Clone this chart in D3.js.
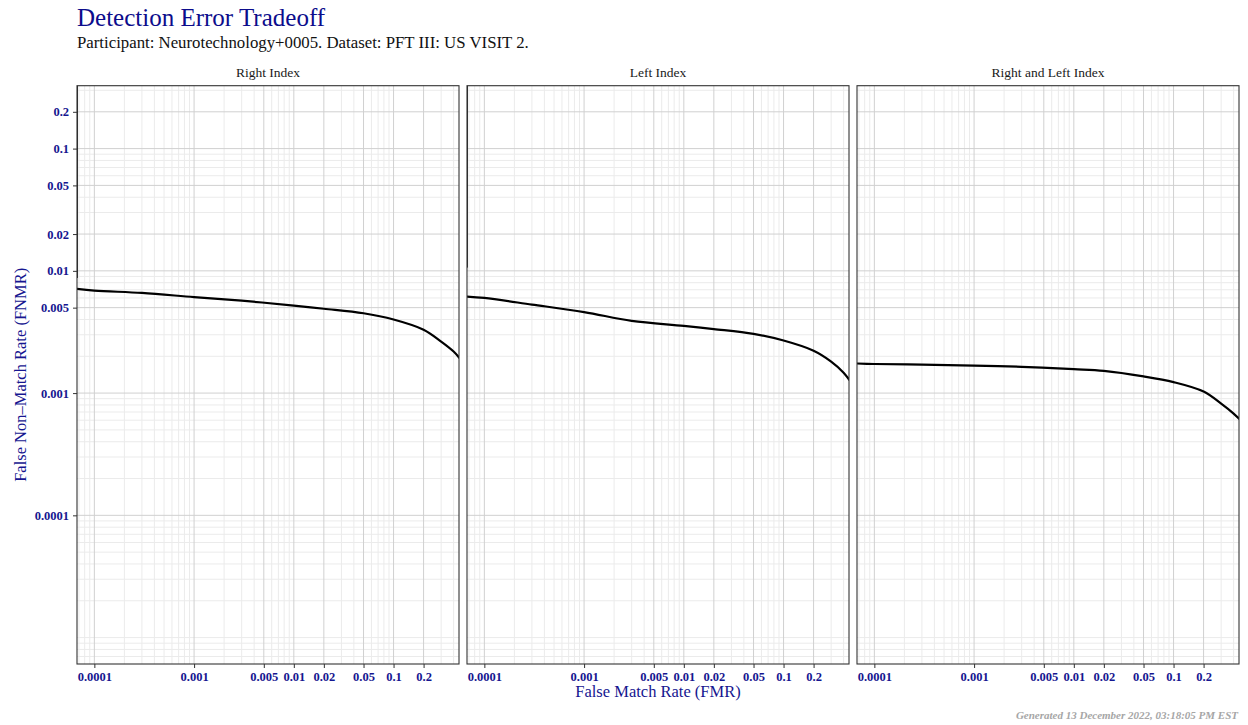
<!DOCTYPE html>
<html>
<head>
<meta charset="utf-8">
<script src="https://cdn.jsdelivr.net/npm/d3@7"></script>
<style>
  body { margin: 0; background: #fff; }
  svg { display: block; font-family: "Liberation Serif", serif; }
</style>
</head>
<body>
<div id="chart"></div>
<script>

// Data
var panels = ["Right Index", "Left Index", "Right and Left Index"];

var fmr = [0.00006, 0.0001, 0.0003, 0.001, 0.003, 0.01, 0.02, 0.05, 0.1, 0.2, 0.3, 0.4, 0.46];

var fnmrRight = [0.0072, 0.0069, 0.0066, 0.0061, 0.0057, 0.0052, 0.0049, 0.0045, 0.0040, 0.0033, 0.00264, 0.00219, 0.00193];
var fnmrLeft = [0.0062, 0.0060, 0.0053, 0.0046, 0.0039, 0.00355, 0.00334, 0.00305, 0.00269, 0.00222, 0.00181, 0.00147, 0.00127];
var fnmrBoth = [0.00175, 0.00173, 0.00171, 0.00168, 0.00164, 0.00157, 0.00152, 0.00137, 0.00123, 0.00103, 0.00082, 0.00068, 0.00061];

// steep start of the curve at the very lowest FMR (FMR, FNMR from -> to)
var leadFmr = [0.0000666, 0.0000666, null];
var leadTop = [1, 1, null];
var leadBottom = [0.0089, 0.0108, null];

var series = [fnmrRight, fnmrLeft, fnmrBoth];

var xTicks = [0.0001, 0.001, 0.005, 0.01, 0.02, 0.05, 0.1, 0.2];
var yTicks = [0.0001, 0.001, 0.005, 0.01, 0.02, 0.05, 0.1, 0.2];

var xDomain = [0.000067, 0.453];
var yDomain = [0.00000608, 0.327];

var title = "Detection Error Tradeoff";
var subtitle = "Participant: Neurotechnology+0005. Dataset: PFT III: US VISIT 2.";
var footer = "Generated 13 December 2022, 03:18:05 PM EST";

// layout
var svgWidth = 1248;
var svgHeight = 725;
var margin = {top: 85.7, left: 77};
var panelW = 382;
var panelH = 578.3;
var gap = 8;

var blue = "#161690";

var svg = d3.select("#chart")
  .append("svg")
  .attr("width", svgWidth)
  .attr("height", svgHeight);

var xScale = d3.scaleLog().domain(xDomain).range([0, panelW]);
var yScale = d3.scaleLog().domain(yDomain).range([panelH, 0]);

function tickText(d) {
  return d < 0.001 ? d.toFixed(4) : String(+d.toPrecision(3));
}

var line = d3.line()
  .x(d => xScale(d[0]))
  .y(d => yScale(d[1]))
  .curve(d3.curveCatmullRom.alpha(0.5));

var minorX = xScale.ticks();
var minorY = yScale.ticks();

panels.forEach(function(name, i) {
  var px = margin.left + i * (panelW + gap);
  var g = svg.append("g")
    .attr("transform", `translate(${px}, ${margin.top})`);

  g.append("clipPath")
    .attr("id", "clip" + i)
    .append("rect")
    .attr("width", panelW)
    .attr("height", panelH);

  var grid = g.append("g");

  // minor grid
  grid.selectAll(".mx")
    .data(minorX.filter(v => xTicks.indexOf(v) < 0))
    .enter().append("line")
    .attr("x1", d => xScale(d)).attr("x2", d => xScale(d))
    .attr("y1", 0).attr("y2", panelH)
    .attr("stroke", "#ebebeb").attr("stroke-width", 1);

  grid.selectAll(".my")
    .data(minorY.filter(v => yTicks.indexOf(v) < 0))
    .enter().append("line")
    .attr("y1", d => yScale(d)).attr("y2", d => yScale(d))
    .attr("x1", 0).attr("x2", panelW)
    .attr("stroke", "#ebebeb").attr("stroke-width", 1);

  // major grid
  grid.selectAll(".Mx")
    .data(xTicks)
    .enter().append("line")
    .attr("x1", d => xScale(d)).attr("x2", d => xScale(d))
    .attr("y1", 0).attr("y2", panelH)
    .attr("stroke", "#d0d0d0").attr("stroke-width", 1);

  grid.selectAll(".My")
    .data(yTicks)
    .enter().append("line")
    .attr("y1", d => yScale(d)).attr("y2", d => yScale(d))
    .attr("x1", 0).attr("x2", panelW)
    .attr("stroke", "#d0d0d0").attr("stroke-width", 1);

  var curveG = g.append("g").attr("clip-path", `url(#clip${i})`);

  var pts = fmr.map((f, k) => [f, series[i][k]]);

  if (leadFmr[i] !== null) {
    var lead = [[leadFmr[i], leadTop[i]], [leadFmr[i], leadBottom[i]], [fmr[0] / 6, series[i][0]], [fmr[0], series[i][0]]];
    curveG.append("path")
      .attr("d", d3.line().x(d => xScale(d[0])).y(d => yScale(d[1]))(lead))
      .attr("fill", "none")
      .attr("stroke", "#000")
      .attr("stroke-width", 2.2);
  }

  curveG.append("path")
    .attr("d", line(pts))
    .attr("fill", "none")
    .attr("stroke", "#000")
    .attr("stroke-width", 2.2)
    .attr("stroke-linejoin", "round");

  // panel border
  g.append("rect")
    .attr("width", panelW)
    .attr("height", panelH)
    .attr("fill", "none")
    .attr("stroke", "#333")
    .attr("stroke-width", 1.1);

  // strip label
  g.append("text")
    .attr("x", panelW / 2)
    .attr("y", 77 - margin.top)
    .attr("text-anchor", "middle")
    .attr("font-size", "13.5px")
    .attr("fill", "#1a1a1a")
    .text(name);

  // x axis
  var xAxis = g.append("g")
    .attr("transform", `translate(0, ${panelH})`)
    .call(d3.axisBottom(xScale).tickValues(xTicks).tickFormat(tickText).tickSize(4).tickPadding(4));
  xAxis.select(".domain").remove();
  xAxis.selectAll("line").attr("stroke", "#333");
  xAxis.selectAll("text")
    .attr("fill", blue)
    .attr("font-family", "Liberation Serif, serif")
    .attr("font-weight", "bold")
    .attr("font-size", "12.5px");

  if (i === 0) {
    var yAxis = g.append("g")
      .call(d3.axisLeft(yScale).tickValues(yTicks).tickFormat(tickText).tickSize(4).tickPadding(4));
    yAxis.select(".domain").remove();
    yAxis.selectAll("line").attr("stroke", "#333");
    yAxis.selectAll("text")
      .attr("fill", blue)
      .attr("font-family", "Liberation Serif, serif")
      .attr("font-weight", "bold")
      .attr("font-size", "12.5px");
  }
});

// titles
svg.append("text")
  .attr("x", 77)
  .attr("y", 26)
  .attr("font-size", "25px")
  .attr("fill", "#0c0c8c")
  .text(title);

svg.append("text")
  .attr("x", 77)
  .attr("y", 48)
  .attr("font-size", "16.8px")
  .attr("fill", "#111")
  .text(subtitle);

svg.append("text")
  .attr("x", margin.left + panelW * 1.5 + gap)
  .attr("y", 697)
  .attr("text-anchor", "middle")
  .attr("font-size", "16.5px")
  .attr("fill", blue)
  .text("False Match Rate (FMR)");

svg.append("text")
  .attr("transform", `translate(26, ${margin.top + panelH / 2}) rotate(-90)`)
  .attr("text-anchor", "middle")
  .attr("font-size", "16.5px")
  .attr("fill", blue)
  .text("False Non\u2013Match Rate (FNMR)");

svg.append("text")
  .attr("x", 1238)
  .attr("y", 719)
  .attr("text-anchor", "end")
  .attr("font-size", "11px")
  .attr("font-weight", "bold")
  .attr("font-style", "italic")
  .attr("fill", "#a6a6a6")
  .text(footer);

</script>
</body>
</html>
